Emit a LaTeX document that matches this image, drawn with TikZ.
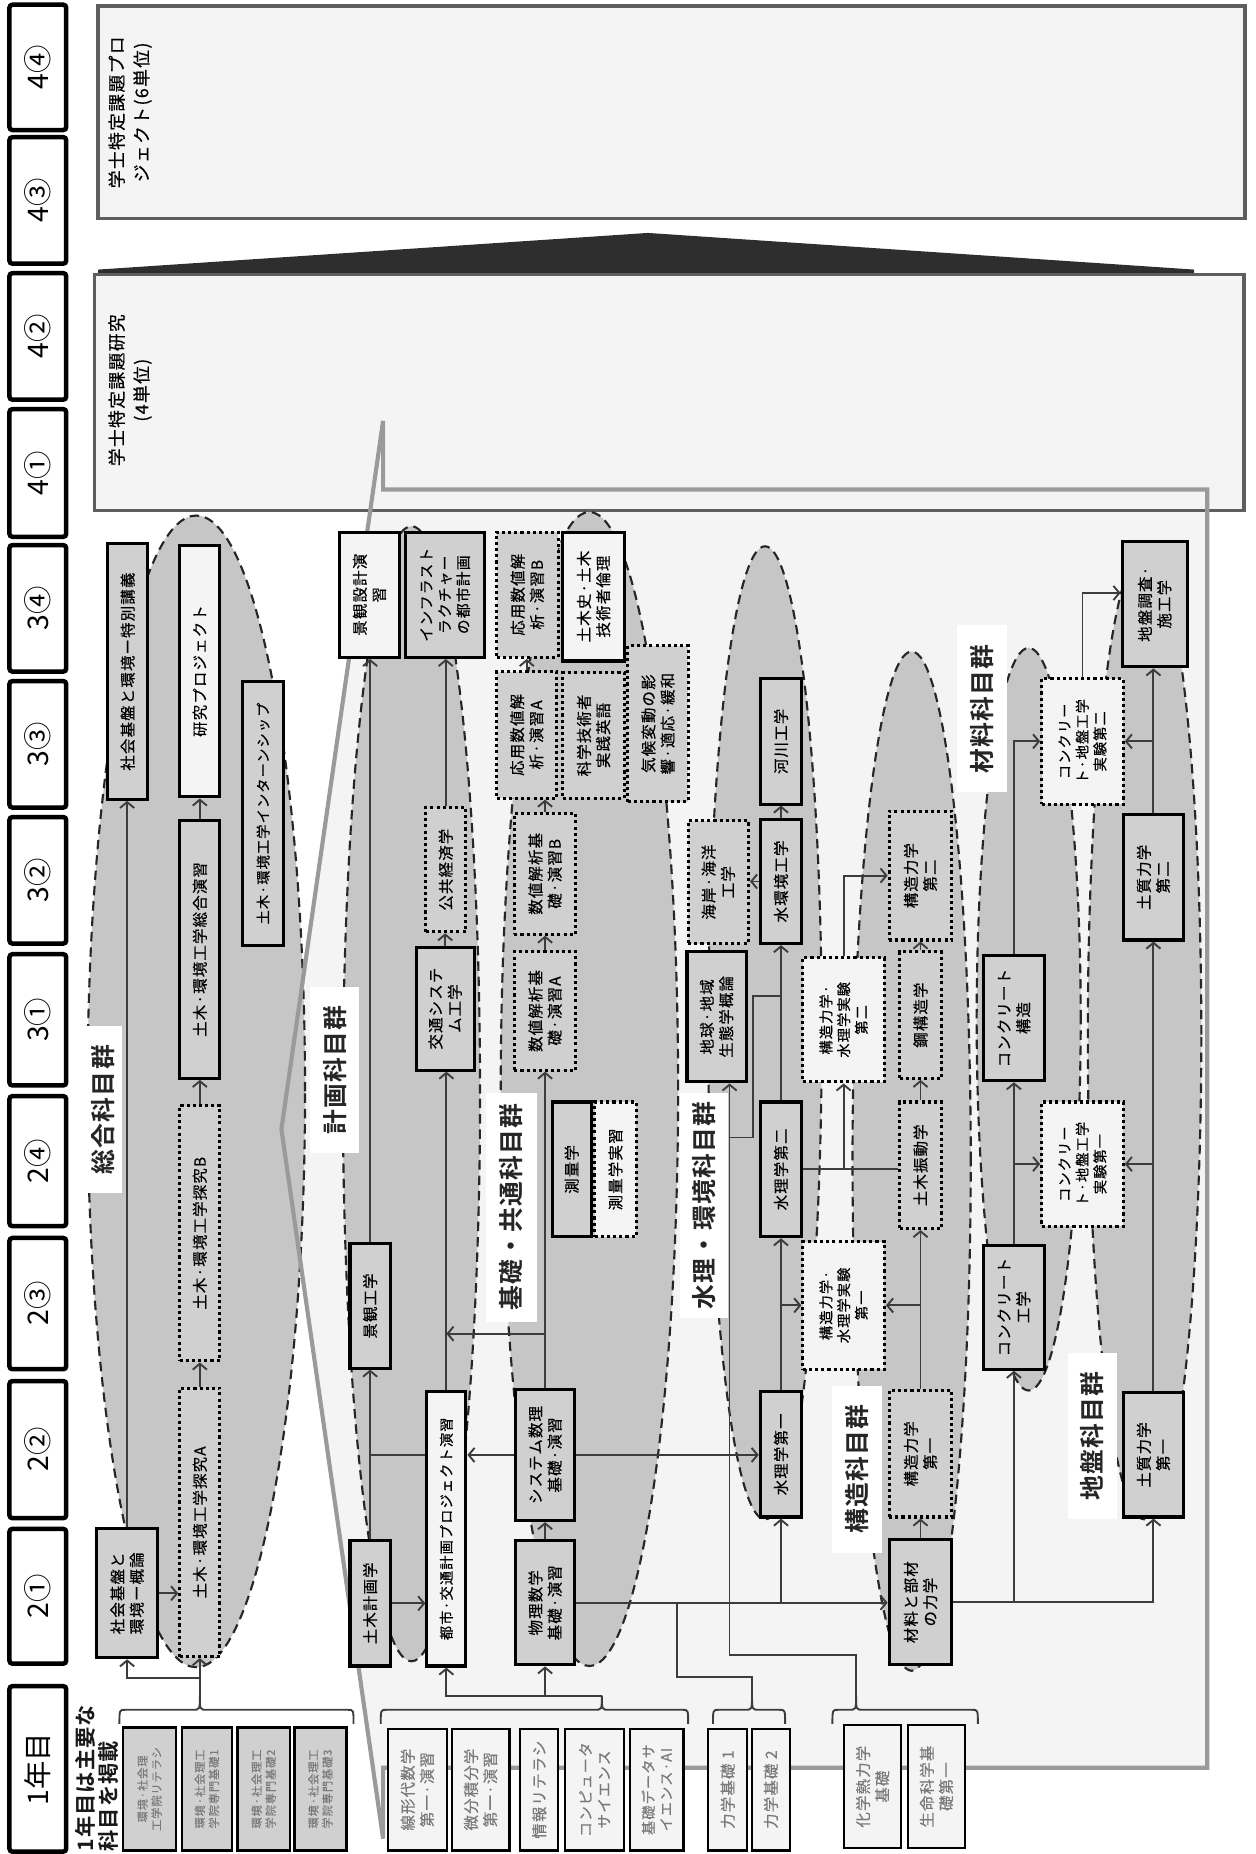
\documentclass[tikz,border=0pt]{standalone}
\usepackage{fontspec}
\setmainfont{Noto Sans CJK JP}
\newfontfamily\jpls[LetterSpace=8,FakeBold=0.5]{Noto Sans CJK JP}
\newfontfamily\jpb[LetterSpace=5]{Noto Sans CJK JP Bold}
\usetikzlibrary{arrows.meta,shapes.geometric}
\definecolor{boxgray}{HTML}{D0D0D0}
\definecolor{boxwhite}{HTML}{F4F4F4}
\definecolor{grpgray}{HTML}{C6C6C6}
\definecolor{linegray}{HTML}{3C3C3C}
\definecolor{framegray}{HTML}{9A9A9A}
\definecolor{bigbord}{HTML}{5E5E5E}
\definecolor{wedgecol}{HTML}{2E2E2E}
\definecolor{fadetext}{HTML}{7A7A7A}
\newcommand\cb[9]{%
 \node[#2,minimum width={#7-#5},minimum height={#8-#6}] (#4) at ({(#5+#7)/2},{(#6+#8)/2}) {};
 \node[rotate=90,align=center,inner sep=0pt,#3,font=\jpls\fontsize{#1}{\dimexpr#1pt*5/4\relax}\selectfont] at (#4.center) {#9};}
\newcommand\bx[8][13]{\cb{#1}{#2}{text=black}{#3}{#4}{#5}{#6}{#7}{#8}}
\newcommand\fx[8][13]{\cb{#1}{#2}{text=fadetext}{#3}{#4}{#5}{#6}{#7}{#8}}
\newcommand\lb[6]{%
 \node[fill=white,inner sep=0pt,minimum width={#4-#2},minimum height={#5-#3}] (#1) at ({(#2+#4)/2},{(#3+#5)/2}) {};
 \node[rotate=90,inner sep=0pt,text=black!85,font=\jpb\fontsize{21}{24}\selectfont] at (#1.center) {#6};}
\newcommand\per[4]{%
 \node[perbox,minimum width=48,minimum height={#3-#2}] (#1) at (32,{(#2+#3)/2}) {};
 \node[rotate=90,inner sep=0pt,font=\fontsize{24}{28}\selectfont] at (#1.center) {#4};}
\newcommand\brc[3]{\draw[conn] (#1,1458) .. controls (#1,1446) .. ({#1+5},1446) -- ({#2-6},1446) .. controls (#2,1446) .. (#2,1434) .. controls (#2,1446) .. ({#2+6},1446) -- ({#3-5},1446) .. controls (#3,1446) .. (#3,1458);}
\begin{document}
\begin{tikzpicture}[x=1pt,y=-1pt,
 gbox/.style={draw=black,line width=2.6pt,fill=boxgray,inner sep=0pt},
 wbox/.style={draw=black,line width=2.6pt,fill=boxwhite,inner sep=0pt},
 gdot/.style={draw=black,line width=2.6pt,dash pattern=on 2.6pt off 2.6pt,fill=boxgray,inner sep=0pt},
 wdot/.style={draw=black,line width=2.6pt,dash pattern=on 2.6pt off 2.6pt,fill=boxwhite,inner sep=0pt},
 fwbox/.style={draw=black,line width=2pt,fill=boxwhite,inner sep=0pt},
 fgbox/.style={draw=black,line width=2pt,fill=boxgray,inner sep=0pt},
 bigbox/.style={draw=bigbord,line width=2.8pt,fill=boxwhite,inner sep=0pt},
 grp/.style={ellipse,draw=black!85,line width=1.8pt,dash pattern=on 8pt off 5pt,fill=grpgray,inner sep=0pt},
 conn/.style={draw=linegray,line width=1.6pt},
 arr/.style={conn,-{Straight Barb[length=5pt,width=12pt]}},
 perbox/.style={draw=black,line width=3.8pt,rounded corners=2.5pt,fill=white,inner sep=0pt}]
\useasboundingbox (0,0) rectangle (1062,1568);
% frame fill
\fill[boxwhite] (324,356)--(324,414)--(1021,414)--(1021,1495)--(324,1495)--(324,1555)--(238,955)--cycle;
% top boxes
\node[bigbox,minimum width=970,minimum height=180] (topA) at (568,95) {};
\node[rotate=90,align=center,inner sep=0pt,font=\jpls\fontsize{15}{21}\selectfont] at (110,95) {学士特定課題プロ\\ジェクト(6単位)};
\fill[wedgecol] (83,232)--(83,228)--(548,197)--(1010,228)--(1010,232)--cycle;
\node[bigbox,minimum width=972,minimum height=200] (topB) at (566,332) {};
\node[rotate=90,align=center,inner sep=0pt,font=\jpls\fontsize{15}{21}\selectfont] at (110,330) {学士特定課題研究\\(4単位)};
% group ellipses
\node[grp,minimum width=184,minimum height=974] (gS) at (166,923) {};
\node[grp,minimum width=116,minimum height=960] (gK) at (348,925) {};
\node[grp,minimum width=150,minimum height=976] (gB) at (498.5,921) {};
\node[grp,minimum width=96,minimum height=823] (gW) at (647,873.5) {};
\node[grp,minimum width=100,minimum height=862] (gT) at (771,982) {};
\node[grp,minimum width=88,minimum height=628] (gM) at (870,862) {};
\node[grp,minimum width=96,minimum height=820] (gJ) at (968,875) {};
% frame stroke
\draw[framegray,line width=3.5pt] (324,356)--(324,414)--(1021,414)--(1021,1495)--(324,1495)--(324,1555)--(238,955)--cycle;
% 総合
\bx{gbox}{sTok}{91}{460}{125}{676}{社会基盤と環境ー特別講義}
\bx{wbox}{sKen}{152}{461}{186}{674}{研究プロジェクト}
\bx[12]{gbox}{sInt}{205}{576}{240}{800}{土木·環境工学インターンシップ}
\bx[13]{gbox}{sSou}{152}{694}{186}{912}{土木·環境工学総合演習}
\bx[13]{gdot}{sTanB}{152}{935}{186}{1151}{土木·環境工学探究B}
\bx[13]{gdot}{sTanA}{152}{1174}{186}{1401}{土木·環境工学探究A}
\bx{gbox}{sGai}{82}{1293}{133}{1402}{社会基盤と\\環境ー概論}
% 計画
\bx{wbox}{kKeiS}{287}{450}{338}{556}{景観設計演\\習}
\bx[12.5]{gbox}{kInf}{343}{450}{410}{556}{インフラスト\\ラクチャー\\の都市計画}
\bx{gdot}{kKou}{360}{683}{394}{788}{公共経済学}
\bx{gbox}{kKot}{352}{801}{401}{905}{交通システ\\ム工学}
\bx{gbox}{kKeik}{296}{1052}{330}{1157}{景観工学}
\bx{gbox}{kDob}{296}{1303}{330}{1409}{土木計画学}
\bx[12]{wbox}{kToshi}{361}{1177}{394}{1409}{都市·交通計画プロジェクト演習}
% 基礎
\bx{gdot}{bOyoB}{420}{450}{472}{556}{応用数値解\\析·演習B}
\bx{wbox}{bDobS}{476}{450}{528}{559}{土木史·土木\\技術者倫理}
\bx{gdot}{bOyoA}{420}{568}{471}{675}{応用数値解\\析·演習A}
\bx{gdot}{bKagaku}{476}{569}{528}{675}{科学技術者\\実践英語}
\bx{gdot}{bKiko}{531}{546}{582}{678}{気候変動の影\\響·適応·緩和}
\bx{gdot}{bSuB}{435}{688}{487}{790}{数値解析基\\礎·演習B}
\bx{gdot}{bSuA}{435}{805}{487}{905}{数値解析基\\礎·演習A}
\bx{gbox}{bSok}{467}{932}{500}{1046}{測量学}
\bx{wdot}{bSokJ}{503}{932}{538}{1046}{測量学実習}
\bx{gbox}{bSys}{436}{1175}{486}{1286}{システム数理\\基礎·演習}
\bx{gbox}{bBut}{436}{1303}{486}{1408}{物理数学\\基礎·演習}
% 水理
\bx{gbox}{wKasen}{643}{574}{678}{680}{河川工学}
\bx{gbox}{wMizu}{643}{693}{678}{798}{水環境工学}
\bx{gdot}{wKai}{582}{694}{633}{798}{海岸·海洋\\工学}
\bx{gbox}{wChi}{581}{805}{631}{915}{地球·地域\\生態学概論}
\bx{gbox}{wSui2}{643}{932}{678}{1046}{水理学第二}
\bx{gbox}{wSui1}{643}{1177}{678}{1283}{水理学第一}
\bx[12]{wdot}{wJ2}{679}{810}{748}{915}{構造力学·\\水理学実験\\第二}
\bx[12]{wdot}{wJ1}{679}{1050}{748}{1158}{構造力学·\\水理学実験\\第一}
% 構造
\bx{gdot}{tK2}{752}{686}{805}{795}{構造力学\\第二}
\bx{gdot}{tKou}{761}{805}{796}{912}{鋼構造学}
\bx{gdot}{tShin}{761}{932}{796}{1039}{土木振動学}
\bx{gdot}{tK1}{752}{1176}{805}{1283}{構造力学\\第一}
\bx{gbox}{tZai}{752}{1302}{805}{1408}{材料と部材\\の力学}
% 材料
\bx[12]{wdot}{mJ2}{881}{574}{950}{680}{コンクリー\\ト·地盤工学\\実験第二}
\bx{gbox}{mKS}{832}{808}{883}{914}{コンクリート\\構造}
\bx[12]{wdot}{mJ1}{881}{932}{950}{1037}{コンクリー\\ト·地盤工学\\実験第一}
\bx{gbox}{mKK}{832}{1053}{883}{1158}{コンクリート\\工学}
% 地盤
\bx{gbox}{jCho}{949}{458}{1004}{564}{地盤調査·\\施工学}
\bx{gbox}{jDo2}{950}{689}{1001}{795}{土質力学\\第二}
\bx{gbox}{jDo1}{950}{1178}{1001}{1283}{土質力学\\第一}
% bottom boxes (first year)
\fx[9.5]{fgbox}{ya}{104}{1461}{149}{1565}{環境·社会理\\工学院リテラシ}
\fx[9.5]{fgbox}{yb}{154}{1461}{196}{1565}{環境·社会理工\\学院専門基礎1}
\fx[9.5]{fgbox}{yc}{201}{1461}{245}{1565}{環境·社会理工\\学院専門基礎2}
\fx[9.5]{fgbox}{yd}{249}{1461}{293}{1565}{環境·社会理工\\学院専門基礎3}
\fx{fwbox}{ye}{328}{1462}{378}{1565}{線形代数学\\第一·演習}
\fx{fwbox}{yf}{382}{1462}{431}{1565}{微分積分学\\第一·演習}
\fx{fwbox}{yg}{440}{1462}{472}{1565}{情報リテラシ}
\fx[12.5]{fwbox}{yh}{478}{1462}{528}{1565}{コンピュータ\\サイエンス}
\fx[12]{fwbox}{yi}{533}{1462}{578}{1565}{基礎データサ\\イエンス·AI}
\fx{fwbox}{yj}{599}{1462}{632}{1565}{力学基礎 1}
\fx{fwbox}{yk}{636}{1462}{668}{1565}{力学基礎 2}
\fx{fwbox}{yl}{714}{1459}{762}{1563}{化学熱力学\\基礎}
\fx{fwbox}{ym}{768}{1459}{816}{1563}{生命科学基\\礎第一}
% braces
\brc{101}{169}{299}
\brc{322}{509}{582}
\brc{603}{636}{664}
\brc{704}{724}{827}
\coordinate (br1) at (169,1434);
\coordinate (br2) at (509,1434);
\coordinate (br3) at (636,1434);
\coordinate (br4) at (724,1434);
% connectors: 総合
\coordinate (j1) at (169,1419);
\draw[conn] (br1) -- (j1);
\draw[arr] (j1) -- (sTanA.south);
\draw[arr] (j1) -| (sGai.south);
\draw[arr] (sGai.north) -- (sGai.north |- sTok.south);
\draw[arr] (sGai.east) -- (sGai.east -| sTanA.west);
\draw[arr] (sTanA.north) -- (sTanB.south);
\draw[arr] (sTanB.north) -- (sSou.south);
\draw[arr] (sSou.north) -- (sKen.south);
% 計画
\draw[arr] (kDob.north) -- (kKeik.south);
\draw[arr] (kKeik.north) -- (kKeik.north |- kKeiS.south);
\draw[arr] (kDob.east) -- (kDob.east -| kToshi.west);
\draw[conn] (kKeik.south |- bSys.west) -- (kToshi.west |- bSys.west);
\draw[arr] (bSys.west) -- (bSys.west -| kToshi.east);
\draw[arr] (kToshi.north) -- (kToshi.north |- kKot.south);
\draw[arr] (kKot.north) -- (kKot.north |- kKou.south);
\draw[arr] (kKou.north) -- (kKou.north |- kInf.south);
\coordinate (j2) at (461,1128);
\draw[arr] (j2) -- (kToshi.north |- j2);
% 基礎
\draw[arr] (bBut.north) -- (bSys.south);
\draw[arr] (bSys.north) -- (bSuA.south);
\draw[arr] (bSuA.north) -- (bSuB.south);
\draw[arr] (bSuB.north) -- (bSuB.north |- bOyoA.south);
\draw[arr] (bOyoA.north) -- (bOyoA.north |- bOyoB.south);
\draw[arr] (bSys.east) -- (bSys.east -| wSui1.west);
\draw[arr] (br2) -| (kToshi.south);
\draw[arr] (bBut.south |- br2) -- (bBut.south);
\draw[arr] (bBut.east) -- (bBut.east -| tZai.west);
\draw[arr] (wSui1.south |- bBut.east) -- (wSui1.south);
\coordinate (j3) at (572.7,1418);
\draw[conn] (br3) |- (j3) -- (j3 |- bBut.east);
\coordinate (j4) at (617,1399.5);
\draw[arr] (br4) |- (j4) -- (j4 |- wChi.south);
\coordinate (j5) at (617,962);
\coordinate (j6) at (637,842.7);
\draw[conn] (j5) -| (j6) -- (wMizu.south |- j6);
% 水理
\draw[arr] (wSui1.north) -- (wSui2.south);
\draw[arr] (wSui1.north |- wJ1.west) -- (wJ1.west);
\draw[arr] (wSui2.north) -- (wMizu.south);
\draw[arr] (wMizu.north) -- (wKasen.south);
\draw[arr] (wMizu.west) -- (wMizu.west -| wKai.east);
\draw[conn] (wSui2.east) -- (wSui2.east -| tShin.west);
\draw[arr] (wJ2.south |- wSui2.east) -- (wJ2.south);
\draw[arr] (wJ2.north) |- (tK2.west);
% 構造
\draw[arr] (tZai.north) -- (tK1.south);
\draw[arr] (tK1.north) -- (tShin.south);
\draw[arr] (tK1.north |- wJ1.east) -- (wJ1.east);
\draw[arr] (tShin.north) -- (tKou.south);
\draw[arr] (tKou.north) -- (tK2.south);
% 材料・地盤
\draw[arr] (tZai.east) -| (jDo1.south);
\draw[arr] (mKK.south |- tZai.east) -- (mKK.south);
\draw[arr] (mKK.north) -- (mKS.south);
\draw[arr] (mKK.north |- mJ1.west) -- (mJ1.west);
\draw[arr] (mKS.north) |- (mJ2.west);
\draw[arr] (jDo1.north) -- (jDo2.south);
\draw[arr] (jDo1.north |- mJ1.east) -- (mJ1.east);
\draw[arr] (jDo2.north) -- (jDo2.north |- jCho.south);
\draw[arr] (jDo2.north |- mJ2.east) -- (mJ2.east);
\coordinate (j7) at (914.5,501.5);
\draw[arr] (mJ2.north) |- (jCho.west |- j7);
% group labels
\lb{lS}{72}{868}{103}{1009}{総合科目群}
\lb{lK}{262}{835}{304}{975}{計画科目群}
\lb{lB}{411}{924}{454}{1118}{基礎・共通科目群}
\lb{lW}{575}{924}{616}{1115}{水理・環境科目群}
\lb{lT}{704}{1172}{746}{1313}{構造科目群}
\lb{lM}{809}{529}{852}{670}{材料科目群}
\lb{lJ}{903}{1144}{945}{1285}{地盤科目群}
\node[rotate=90,anchor=west,align=left,inner sep=0pt,text=black!90,font=\jpb\fontsize{18}{20}\selectfont] (ylbl) at (82,1566) {1年目は主要な\\科目を掲載};
% period boxes
\per{p44}{4}{110}{4④}
\per{p43}{116}{223}{4③}
\per{p42}{231}{338}{4②}
\per{p41}{346}{454}{4①}
\per{p34}{461}{568}{3④}
\per{p33}{576}{683}{3③}
\per{p32}{691}{798}{3②}
\per{p31}{807}{918}{3①}
\per{p24}{927}{1037}{2④}
\per{p23}{1047}{1158}{2③}
\per{p22}{1168}{1284}{2②}
\per{p21}{1293}{1407}{2①}
\per{p1}{1426}{1566}{1年目}
\end{tikzpicture}
\end{document}
